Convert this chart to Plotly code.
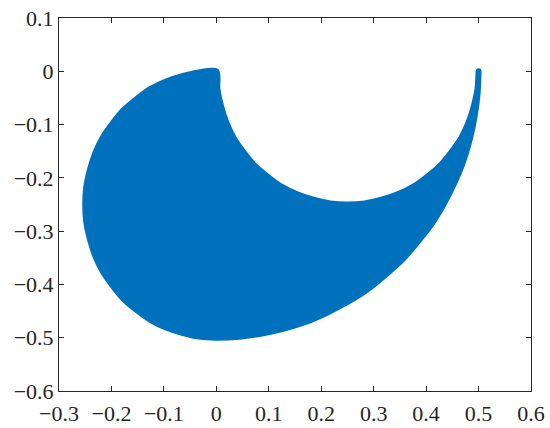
import plotly.graph_objects as go

# boundary of the filled region:
# outer left arc (top -> bottom), outer bottom arc (bottom -> right tip), inner arc (right tip -> top)
left_x = [0.0, -0.033, -0.065, -0.096, -0.125, -0.152, -0.177, -0.198, -0.217, -0.231, -0.241, -0.248, -0.25,
          -0.248, -0.241, -0.231, -0.217, -0.198, -0.177, -0.152, -0.125, -0.096, -0.065, -0.033, 0.0]
left_y = [0.0, -0.002, -0.009, -0.019, -0.033, -0.052, -0.073, -0.098, -0.125, -0.154, -0.185, -0.217, -0.25,
          -0.283, -0.315, -0.346, -0.375, -0.402, -0.427, -0.448, -0.467, -0.481, -0.491, -0.498, -0.5]
bottom_x = [0.044, 0.087, 0.129, 0.171, 0.211, 0.25, 0.287, 0.321, 0.354, 0.383, 0.41, 0.433, 0.453,
            0.47, 0.483, 0.492, 0.498, 0.5]
bottom_y = [-0.498, -0.492, -0.483, -0.47, -0.453, -0.433, -0.41, -0.383, -0.354, -0.321, -0.287, -0.25, -0.211,
            -0.171, -0.129, -0.087, -0.044, 0.0]
inner_x = [0.498, 0.491, 0.481, 0.467, 0.448, 0.427, 0.402, 0.375, 0.346, 0.315, 0.283, 0.25,
           0.217, 0.185, 0.154, 0.125, 0.098, 0.073, 0.052, 0.033, 0.019, 0.009, 0.002, 0.0]
inner_y = [-0.033, -0.065, -0.096, -0.125, -0.152, -0.177, -0.198, -0.217, -0.231, -0.241, -0.248, -0.25,
           -0.248, -0.241, -0.231, -0.217, -0.198, -0.177, -0.152, -0.125, -0.096, -0.065, -0.033, 0.0]

x_ticks = [-0.3, -0.2, -0.1, 0, 0.1, 0.2, 0.3, 0.4, 0.5, 0.6]
y_ticks = [0.1, 0, -0.1, -0.2, -0.3, -0.4, -0.5, -0.6]

blue = "#0072BD"
ink = "#262626"
font_family = "Liberation Serif, Times New Roman, serif"

fig = go.Figure()
fig.add_trace(go.Scatter(x=left_x + bottom_x + inner_x, y=left_y + bottom_y + inner_y,
                         mode="lines", fill="toself", fillcolor=blue,
                         line=dict(color=blue, width=6, shape="spline", smoothing=0.8),
                         hoverinfo="skip"))


def tick_text(v):
    s = "0" if v == 0 else f"{v:g}"
    return s.replace("-", "\u2212")


axis_style = dict(showgrid=False, zeroline=False, showline=True, mirror="ticks", automargin=False,
                  ticklabeloverflow="allow", linecolor=ink, linewidth=1, ticks="inside", ticklen=5,
                  tickcolor=ink, tickfont=dict(family=font_family, size=22, color=ink))
fig.update_xaxes(range=[-0.3, 0.6], tickvals=x_ticks, ticktext=[tick_text(v) for v in x_ticks],
                 ticklabelstandoff=3, **axis_style)
fig.update_yaxes(range=[-0.6, 0.1], tickvals=y_ticks, ticktext=[tick_text(v) for v in y_ticks], **axis_style)
fig.update_layout(width=550, height=428, showlegend=False, plot_bgcolor="white", paper_bgcolor="white",
                  font=dict(family=font_family), margin=dict(l=59, r=19, t=18, b=37))
# drop the default page margin so the figure fills the window exactly
fig.write_html("out.html", config={"displayModeBar": False},
               post_script="document.body.style.margin = '0';")
